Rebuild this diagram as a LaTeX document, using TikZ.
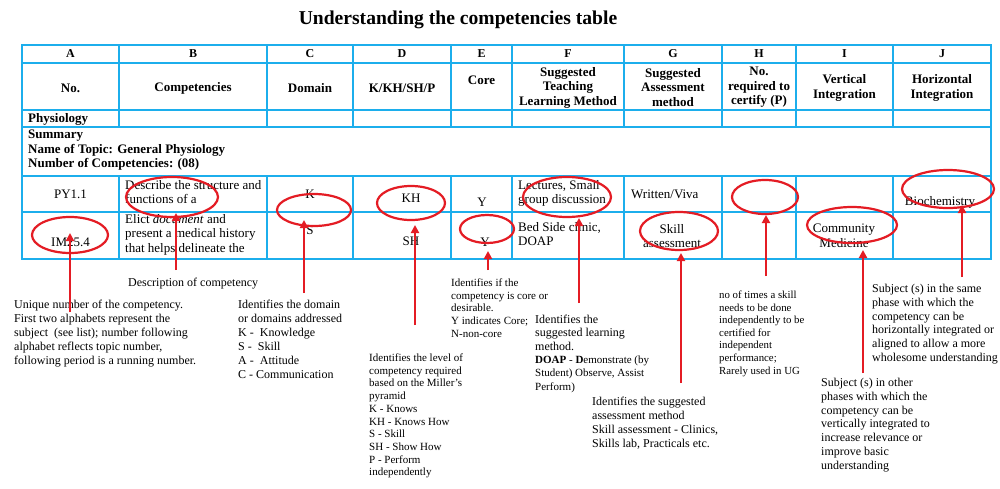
\documentclass[tikz,border=0pt]{standalone}
\usepackage{fontspec}
\setmainfont{Liberation Serif}
\usetikzlibrary{shapes.geometric,arrows.meta}
\definecolor{tblue}{RGB}{28,174,236}
\definecolor{tred}{RGB}{228,28,36}
\tikzset{
  grid line/.style={draw=tblue,line width=2.4pt},
  ring/.style={ellipse,draw=tred,line width=2.2pt,inner sep=0pt},
  pointer/.style={draw=tred,line width=2.4pt,-{Triangle[width=8pt,length=8pt]}},
  note/.style={anchor=north west,align=left,inner sep=0pt,font=\fontsize{12}{13.9}\selectfont},
  smallnote/.style={note,font=\fontsize{11}{12.7}\selectfont},
  cell/.style={inner sep=0pt,font=\fontsize{13}{14.5}\selectfont},
  lcell/.style={cell,anchor=north west,align=left},
  hdr/.style={inner sep=0pt,align=center,font=\bfseries\fontsize{13}{14.5}\selectfont},
  letter/.style={inner sep=0pt,font=\bfseries\fontsize{12}{14}\selectfont},
}
\begin{document}
\begin{tikzpicture}[x=1pt,y=-1pt]
\useasboundingbox (0,0) rectangle (1000,488);
\fill[white] (0,0) rectangle (1000,488);
% title
\node[inner sep=0pt,font=\bfseries\fontsize{19.6}{22}\selectfont] (title) at (458,20) {Understanding the competencies table};
% table grid
\draw[grid line] (22,45) rectangle (991,259);
\foreach \yy in {63,110,127,176,212} \draw[grid line] (22,\yy) -- (991,\yy);
\foreach \xx in {119,267,353,451,512,624,722,796,893} {
  \draw[grid line] (\xx,45) -- (\xx,127);
  \draw[grid line] (\xx,176) -- (\xx,259);
}
% letter row
\node[letter] (lA) at (70.5,54) {A};
\node[letter] (lB) at (193,54) {B};
\node[letter] (lC) at (310,54) {C};
\node[letter] (lD) at (402,54) {D};
\node[letter] (lE) at (481.5,54) {E};
\node[letter] (lF) at (568,54) {F};
\node[letter] (lG) at (673,54) {G};
\node[letter] (lH) at (759,54) {H};
\node[letter] (lI) at (844.5,54) {I};
\node[letter] (lJ) at (942,54) {J};
% header row
\node[hdr] (hA) at (70.5,88) {No.};
\node[hdr] (hB) at (193,88) {Competencies};
\node[hdr] (hC) at (310,88) {Domain};
\node[hdr] (hD) at (402,88) {K/KH/SH/P};
\node[hdr] (hE) at (481.5,80) {Core};
\node[hdr] (hF) at (568,87.5) {Suggested\\Teaching\\Learning Method};
\node[hdr] (hG) at (673,87.5) {Suggested\\Assessment\\method};
\node[hdr] (hH) at (759,87.5) {No.\\required to\\certify (P)};
\node[hdr] (hI) at (844.5,88) {Vertical\\Integration};
\node[hdr] (hJ) at (942,88) {Horizontal\\Integration};
% physiology and summary
\node[hdr,anchor=west] (phys) at (28,119) {Physiology};
\node[hdr,anchor=north west,align=left] (summ) at (28,130) {Summary\\Name of Topic: General Physiology\\Number of Competencies: (08)};
% PY row
\node[cell] (pyA) at (70.5,194) {PY1.1};
\node[lcell] (pyB) at (125,180) {Describe the structure and\\functions of a};
\node[cell] (pyC) at (310,194) {K};
\node[cell] (pyD) at (411,198) {KH};
\node[cell] (pyE) at (482,202) {Y};
\node[lcell] (pyF) at (518,180) {Lectures, Small\\group discussion};
\node[cell,anchor=west] (pyG) at (631,194) {Written/Viva};
\node[cell] (pyJ) at (940,202) {Biochemistry};
% IM row
\node[cell] (imA) at (70.5,242) {IM25.4};
\node[lcell] (imB) at (125,214) {Elict \textit{document} and\\present a medical history\\that helps delineate the};
\node[cell] (imC) at (310,230) {S};
\node[cell] (imD) at (411,241) {SH};
\node[cell] (imE) at (485,242) {Y};
\node[lcell] (imF) at (518,222) {Bed Side clinic,\\DOAP};
\node[cell,align=center] (imG) at (672,236) {Skill\\assessment};
\node[cell,align=center] (imI) at (844,236) {Community\\Medicine};
% red ellipses
\node[ring,minimum width=76pt,minimum height=36pt] (eA) at (70,235) {};
\node[ring,minimum width=92pt,minimum height=40pt] (eB) at (172,197) {};
\node[ring,minimum width=74pt,minimum height=32pt] (eC) at (314,210) {};
\node[ring,minimum width=68pt,minimum height=34pt] (eD) at (411,203) {};
\node[ring,minimum width=54pt,minimum height=28pt] (eE) at (487,229) {};
\node[ring,minimum width=88pt,minimum height=40pt] (eF) at (567,197) {};
\node[ring,minimum width=78pt,minimum height=38pt] (eG) at (679,231) {};
\node[ring,minimum width=66pt,minimum height=34pt] (eH) at (765,197) {};
\node[ring,minimum width=90pt,minimum height=36pt] (eI) at (852,225) {};
\node[ring,minimum width=92pt,minimum height=38pt] (eJ) at (948,189) {};
% annotations
\node[note] (nA) at (14,300) {Unique number of the competency.\\First two alphabets represent the\\subject~ (see list); number following\\alphabet reflects topic number,\\following period is a running number.};
\node[note,anchor=west] (nB) at (128,284) {Description of competency};
\node[note] (nC) at (238,300) {Identifies the domain\\or domains addressed\\K -~ Knowledge\\S -~ Skill\\A -~ Attitude\\C - Communication};
\node[smallnote] (nD) at (369,353.6) {Identifies the level of\\competency required\\based on the Miller's\\pyramid\\K - Knows\\KH - Knows How\\S - Skill\\SH - Show How\\P - Perform\\independently};
\node[smallnote] (nE) at (451,278.6) {Identifies if the\\competency is core or\\desirable.\\Y indicates Core;\\N-non-core};
\node[note,font=\fontsize{12}{13.3}\selectfont] (nF) at (535,315) {Identifies the\\suggested learning\\method.\\\fontsize{11}{13.3}\selectfont\textbf{DOAP} - \textbf{D}emonstrate (by\\\fontsize{11}{13.3}\selectfont Student) Observe, Assist\\\fontsize{11}{13.3}\selectfont Perform)};
\node[note] (nG) at (592,397) {Identifies the suggested\\assessment method\\Skill assessment - Clinics,\\Skills lab, Practicals etc.};
\node[note,font=\fontsize{10.8}{12.6}\selectfont] (nH) at (719,290.7) {no of times a skill\\needs to be done\\independently to be\\certified for\\independent\\performance;\\Rarely used in UG};
\node[note,font=\fontsize{12}{13.8}\selectfont] (nI) at (821,378) {Subject (s) in other\\phases with which the\\competency can be\\vertically integrated to\\increase relevance or\\improve basic\\understanding};
\node[note,font=\fontsize{12}{13.8}\selectfont] (nJ) at (872,284) {Subject (s) in the same\\phase with which the\\competency can be\\horizontally integrated or\\aligned to allow a more\\wholesome understanding};
% arrow ends
\coordinate (sA) at (70,312);  \coordinate (tA) at (70,233);
\coordinate (sB) at (176,270); \coordinate (tB) at (176,213);
\coordinate (sC) at (304,293); \coordinate (tC) at (304,220);
\coordinate (sD) at (415,325); \coordinate (tD) at (415,225);
\coordinate (sE) at (488,270); \coordinate (tE) at (488,251);
\coordinate (sF) at (579,303); \coordinate (tF) at (579,218);
\coordinate (sG) at (681,383); \coordinate (tG) at (681,253);
\coordinate (sH) at (766,276); \coordinate (tH) at (766,215);
\coordinate (sI) at (863,373); \coordinate (tI) at (863,250);
\coordinate (sJ) at (962,277); \coordinate (tJ) at (962,205);
\foreach \k in {A,B,C,D,E,F,G,H,I,J} \draw[pointer] (s\k) -- (t\k);
\end{tikzpicture}
\end{document}
